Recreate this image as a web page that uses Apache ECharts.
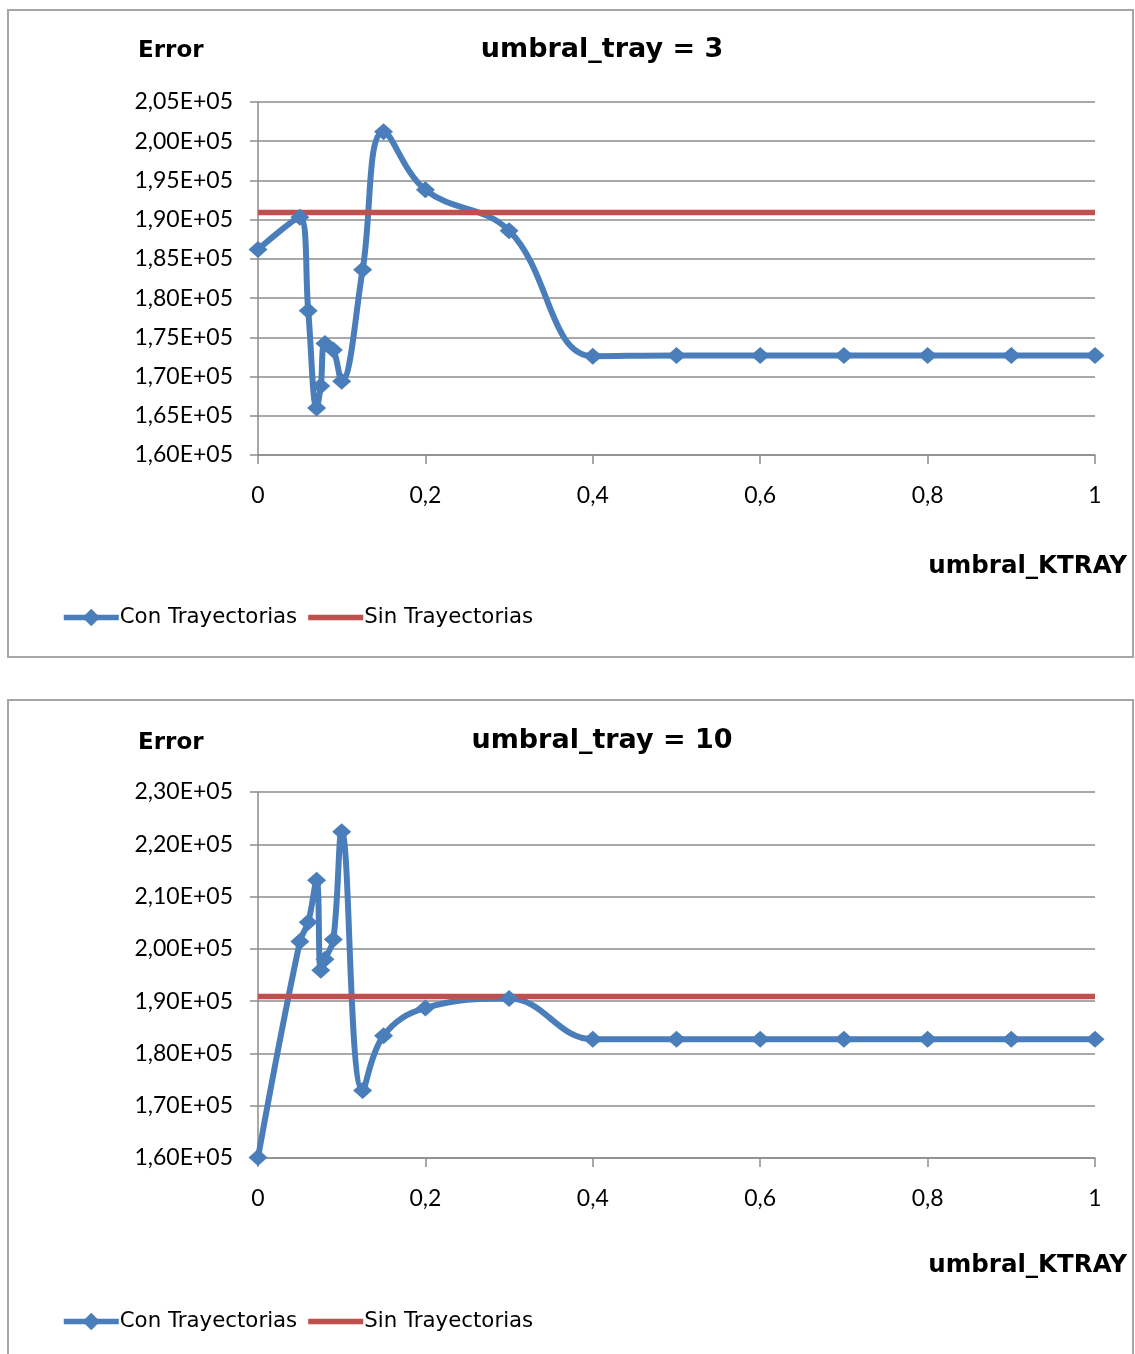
<!DOCTYPE html>
<html>
<head>
<meta charset="utf-8">
<script src="https://cdn.jsdelivr.net/npm/echarts@6/dist/echarts.min.js"></script>
<style>
html,body{margin:0;padding:0;background:#fff;}
#chart{width:1135px;height:1354px;}
</style>
</head>
<body>
<div id="chart"></div>
<script>
// ---- data ----
const xValues = [0, 0.05, 0.06, 0.07, 0.075, 0.08, 0.09, 0.1, 0.125, 0.15, 0.2, 0.3, 0.4, 0.5, 0.6, 0.7, 0.8, 0.9, 1];
const conTray3 = [186200, 190300, 178400, 166000, 168800, 174200, 173400, 169400, 183600, 201200, 193800, 188600, 172600, 172700, 172700, 172700, 172700, 172700, 172700];
const conTray10 = [160100, 201400, 205100, 213100, 195900, 198000, 201800, 222400, 172900, 183400, 188700, 190500, 182700, 182700, 182700, 182700, 182700, 182700, 182700];
const sinX = [0, 1];
const sinTray3 = [190900, 190900];
const sinTray10 = [190900, 190900];
const titles = ['umbral_tray = 3', 'umbral_tray = 10'];
const seriesNames = ['Con Trayectorias', 'Sin Trayectorias'];
const yAxisName = 'Error';
const xAxisName = 'umbral_KTRAY';

const NUMFONT = 'Lato, "Open Sans", sans-serif';
const BOLDFONT = '"DejaVu Sans", sans-serif';
const LEGFONT = '"DejaVu Sans", sans-serif';
const BLUE = '#4a7ebb';
const RED = '#c0504d';
const GRID = '#8c8c8c';

function pairs(xs, ys) { return xs.map((x, i) => [x, ys[i]]); }
function yFmt(v) { return (v / 1e5).toFixed(2).replace('.', ',') + 'E+05'; }
function xFmt(v) { return String(Number(v.toFixed(1))).replace('.', ','); }

const panels = [
  { top: 102, height: 353, min: 160000, max: 205000, interval: 5000, con: conTray3, sin: sinTray3, box: 10, titleY: 31, errY: 35, xnY: 549, legY: 607 },
  { top: 792, height: 366, min: 160000, max: 230000, interval: 10000, con: conTray10, sin: sinTray10, box: 700, titleY: 722, errY: 727, xnY: 1248, legY: 1311 }
];

const grid = [], xAxis = [], yAxis = [], series = [], title = [], legend = [], graphic = [];
panels.forEach((p, i) => {
  grid.push({ left: 258, width: 837, top: p.top, height: p.height });
  xAxis.push({
    type: 'value', gridIndex: i, min: 0, max: 1, interval: 0.2,
    axisLine: { show: true, lineStyle: { color: GRID, width: 1.5 } },
    axisTick: { show: true, length: 9, lineStyle: { color: GRID, width: 1.5 } },
    splitLine: { show: false },
    axisLabel: { formatter: xFmt, margin: 29, color: '#000', fontFamily: NUMFONT, fontSize: 23 }
  });
  yAxis.push({
    type: 'value', gridIndex: i, min: p.min, max: p.max, interval: p.interval,
    axisLine: { show: true, lineStyle: { color: GRID, width: 1.5 } },
    axisTick: { show: true, length: 8, lineStyle: { color: GRID, width: 1.5 } },
    splitLine: { show: true, lineStyle: { color: GRID, width: 1.5 } },
    axisLabel: { formatter: yFmt, margin: 25, color: '#000', fontFamily: NUMFONT, fontSize: 23 }
  });
  series.push({
    name: seriesNames[0], type: 'line', xAxisIndex: i, yAxisIndex: i,
    data: pairs(xValues, p.con), smooth: 0.4,
    symbol: 'diamond', symbolSize: [19, 17],
    lineStyle: { color: BLUE, width: 6 }, itemStyle: { color: BLUE },
    emphasis: { disabled: true }, animation: false
  });
  series.push({
    name: seriesNames[1], type: 'line', xAxisIndex: i, yAxisIndex: i,
    data: pairs(sinX, p.sin), symbol: 'none', showSymbol: false,
    lineStyle: { color: RED, width: 5.5 }, itemStyle: { color: RED },
    emphasis: { disabled: true }, animation: false
  });
  title.push({ text: titles[i], left: 597, textAlign: 'center', top: p.titleY,
    textStyle: { fontFamily: BOLDFONT, fontSize: 27, fontWeight: 'bold', color: '#000' } });
  title.push({ text: yAxisName, left: 133, top: p.errY,
    textStyle: { fontFamily: BOLDFONT, fontSize: 23, fontWeight: 'bold', color: '#000' } });
  title.push({ text: xAxisName, right: 3, top: p.xnY,
    textStyle: { fontFamily: BOLDFONT, fontSize: 24.5, fontWeight: 'bold', color: '#000' } });
  legend.push({
    data: [{ name: seriesNames[0] }, { name: seriesNames[1], icon: 'path://M0,0H55V5.5H0Z' }],
    left: 61, top: p.legY, padding: 0, itemWidth: 55, itemHeight: 22, itemGap: 11,
    lineStyle: { width: 5.5 },
    textStyle: { fontFamily: LEGFONT, fontSize: 21.3, color: '#000', padding: [0, 0, 0, -4] },
    selectedMode: false
  });
  graphic.push({ type: 'rect', shape: { x: 8, y: p.box, width: 1125, height: i === 0 ? 647 : 700 },
    style: { fill: 'none', stroke: '#a6a6a6', lineWidth: 2 }, silent: true, z: -10 });
});

const chart = echarts.init(document.getElementById('chart'), null, { renderer: 'canvas' });
chart.setOption({ animation: false, backgroundColor: '#fff', grid, xAxis, yAxis, series, title, legend, graphic });
</script>
</body>
</html>
